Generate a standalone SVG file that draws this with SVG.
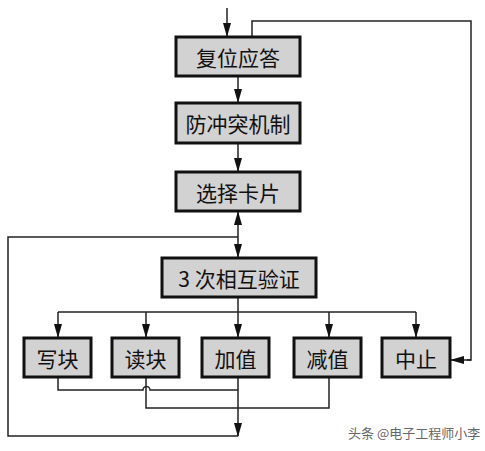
<svg xmlns="http://www.w3.org/2000/svg" width="485" height="451" viewBox="0 0 485 451">
<style>
.box{fill:#d2d2d2;stroke:#111;stroke-width:3}
.lbl{font-family:"Noto Sans CJK SC","Liberation Sans",sans-serif;font-size:21px;fill:#111;text-anchor:middle;dominant-baseline:central}
.ln{fill:none;stroke:#222;stroke-width:1.5}
.ar{marker-end:url(#ah)}
</style>
<defs>
<marker id="ah" markerUnits="userSpaceOnUse" markerWidth="14" markerHeight="8" refX="13" refY="4" orient="auto-start-reverse">
<path d="M0,0 L14,4 L0,8 z" fill="#111"/>
</marker>
</defs>
<rect width="485" height="451" fill="#fff"/>
<g id="connectors">
<line class="ln ar" x1="227" y1="8" x2="227" y2="36"/>
<polyline class="ln" points="252,36 252,21 471,21 471,360 467,360"/>
<line class="ln ar" x1="471" y1="360" x2="451" y2="360"/>
<line class="ln ar" x1="238" y1="76" x2="238" y2="102"/>
<line class="ln ar" x1="238" y1="143" x2="238" y2="171"/>
<line class="ln" x1="238" y1="212" x2="238" y2="257" marker-start="url(#ah)" marker-end="url(#ah)"/>
<polyline class="ln" points="238,237 8,237 8,436 238,436"/>
<line class="ln" x1="238" y1="297" x2="238" y2="312"/>
<line class="ln" x1="58" y1="312" x2="416" y2="312"/>
<line class="ln ar" x1="58" y1="312" x2="58" y2="337"/>
<line class="ln ar" x1="146" y1="312" x2="146" y2="337"/>
<line class="ln ar" x1="238" y1="312" x2="238" y2="337"/>
<line class="ln ar" x1="329" y1="312" x2="329" y2="337"/>
<line class="ln ar" x1="416" y1="312" x2="416" y2="337"/>
<path class="ln" d="M58,377 V390 H143 A3.5,3.5 0 0 1 150,390 H238"/>
<polyline class="ln" points="146,377 146,408 329,408 329,377"/>
<line class="ln ar" x1="238" y1="377" x2="238" y2="436"/>
</g>
<g id="n1"><rect class="box" x="176" y="37" width="124" height="39"/><text class="lbl" x="238" y="56.5">复位应答</text></g>
<g id="n2"><rect class="box" x="176" y="103" width="124" height="40"/><text class="lbl" x="238" y="123">防冲突机制</text></g>
<g id="n3"><rect class="box" x="176" y="172" width="124" height="39"/><text class="lbl" x="238" y="191.5">选择卡片</text></g>
<g id="n4"><rect class="box" x="162" y="258" width="154" height="39"/><text class="lbl" x="239" y="277.5">3 次相互验证</text></g>
<g id="n5"><rect class="box" x="24" y="338" width="67" height="39"/><text class="lbl" x="57.5" y="357.5">写块</text></g>
<g id="n6"><rect class="box" x="112" y="338" width="67" height="39"/><text class="lbl" x="145.5" y="357.5">读块</text></g>
<g id="n7"><rect class="box" x="202" y="338" width="67" height="39"/><text class="lbl" x="235.5" y="357.5">加值</text></g>
<g id="n8"><rect class="box" x="294" y="338" width="67" height="39"/><text class="lbl" x="327.5" y="357.5">减值</text></g>
<g id="n9"><rect class="box" x="382" y="338" width="68" height="39"/><text class="lbl" x="416" y="357.5">中止</text></g>
<text x="348" y="438" font-family="Noto Sans CJK SC,Liberation Sans,sans-serif" font-size="13" fill="#666">头条 @电子工程师小李</text>
</svg>
